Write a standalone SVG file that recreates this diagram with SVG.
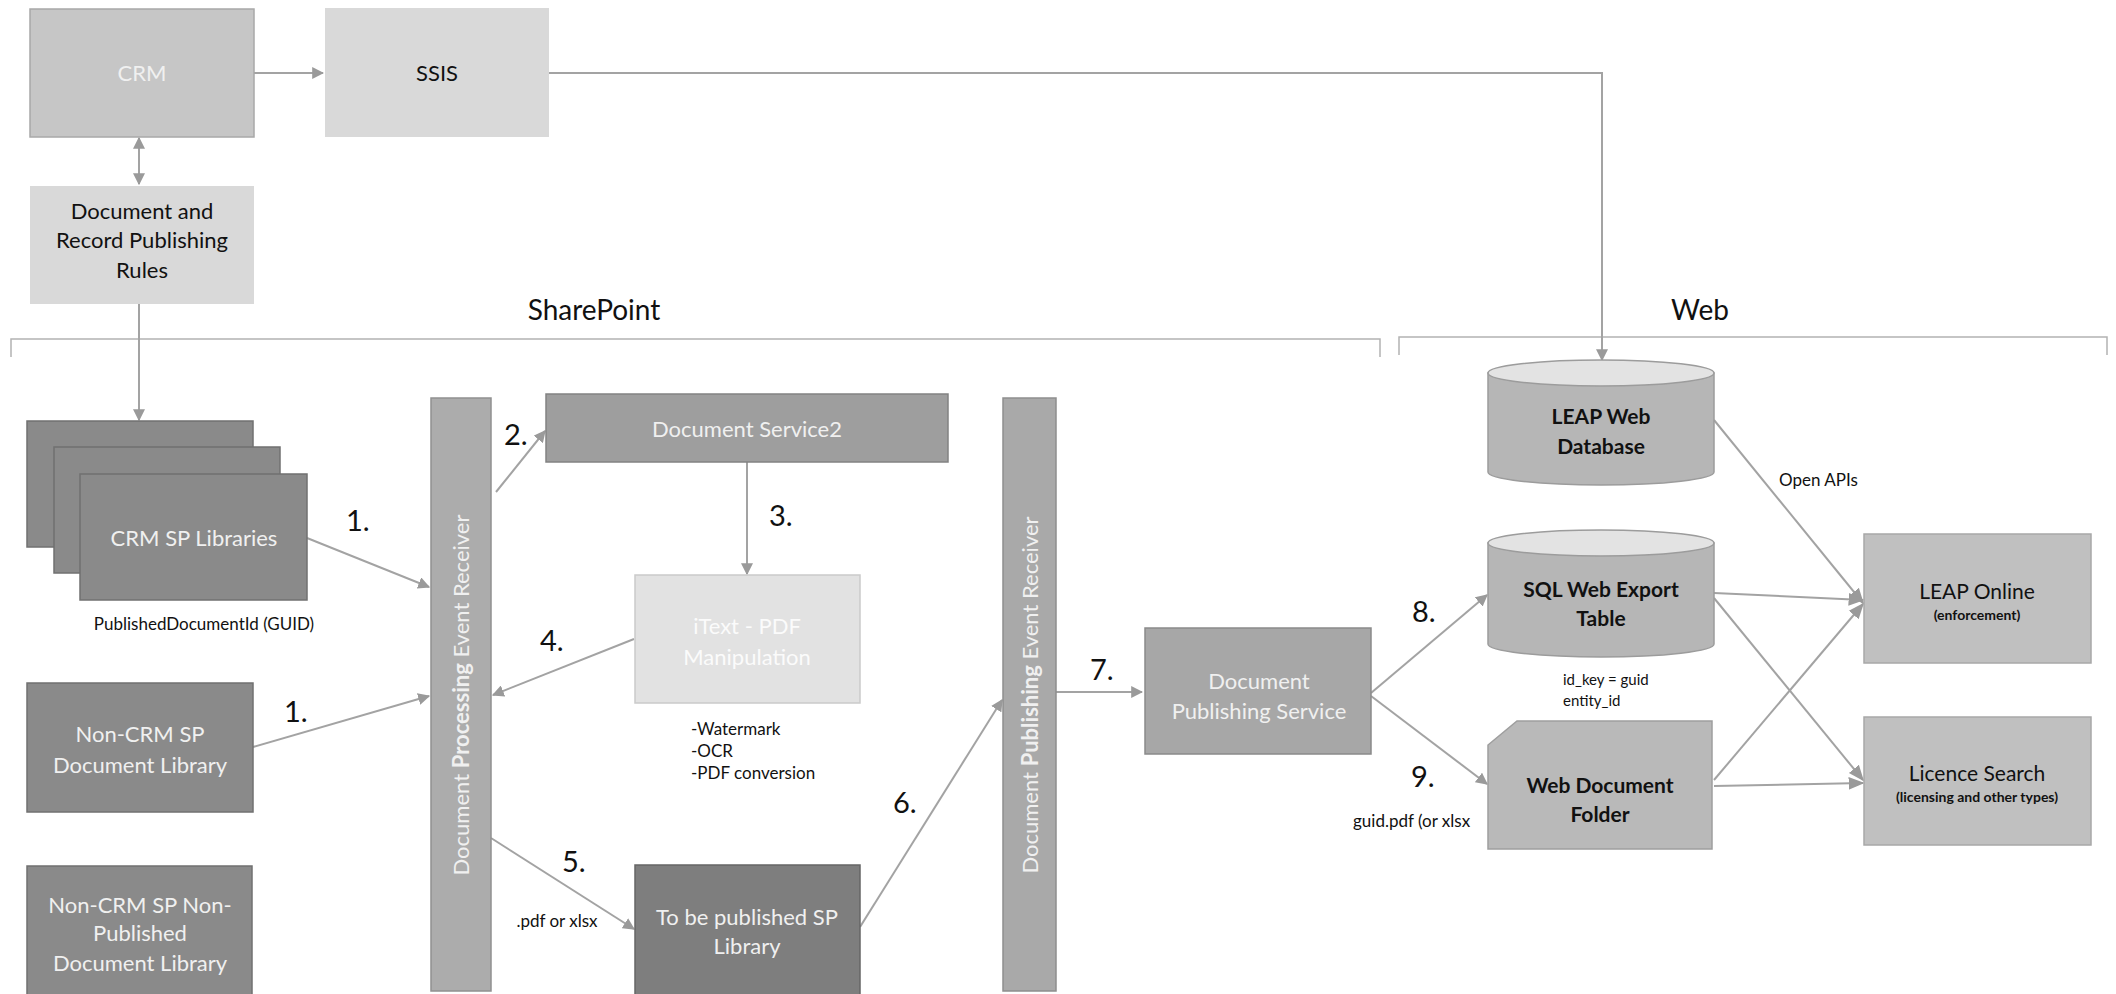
<svg xmlns="http://www.w3.org/2000/svg" width="2116" height="994" viewBox="0 0 2116 994">
<defs>
<marker id="ah2" viewBox="0 0 10 10" refX="9" refY="5" markerWidth="12" markerHeight="12" markerUnits="userSpaceOnUse" orient="auto-start-reverse"><path d="M0,0 L10,5 L0,10 z" fill="#9a9a9a"/></marker>
<marker id="ahb" viewBox="0 0 10 10" refX="9" refY="5" markerWidth="16" markerHeight="16" markerUnits="userSpaceOnUse" orient="auto-start-reverse"><path d="M0,1 L10,5 L0,9 z" fill="#9a9a9a"/></marker>
</defs>
<style>
text{font-family:Lato,"Liberation Sans",sans-serif;}
.c{text-anchor:middle;}
.w{fill:#f0f0f0;font-size:22px;}
.k{fill:#111;font-size:22px;}
.kb{fill:#111;font-size:21px;font-weight:bold;}
.sm{fill:#111;font-size:17px;}
.sr{fill:#111;font-size:15px;}
.num{fill:#111;font-size:29px;}
.hd{fill:#111;font-size:28px;}
.ln{stroke:#a3a3a3;stroke-width:2;fill:none;}
.br{stroke:#b3b3b3;stroke-width:1.5;fill:none;}
.dark{fill:#8a8a8a;stroke:#707070;stroke-width:1.5;}
</style>
<rect width="2116" height="994" fill="#ffffff"/>

<g id="sharepoint-section">
<path class="br" d="M11,357 V339 H1380 V357"/>
<text class="hd c" x="594" y="320">SharePoint</text>
</g>
<g id="web-section">
<path class="br" d="M1399,355 V337 H2107 V355"/>
<text class="hd c" x="1700" y="320">Web</text>
</g>

<g id="connectors">
<line class="ln" x1="254" y1="73" x2="323" y2="73" marker-end="url(#ah2)"/>
<polyline class="ln" points="549,73 1602,73 1602,360" marker-end="url(#ah2)"/>
<line class="ln" x1="139" y1="138" x2="139" y2="184" marker-start="url(#ah2)" marker-end="url(#ah2)"/>
<line class="ln" x1="139" y1="304" x2="139" y2="420" marker-end="url(#ah2)"/>
<line class="ln" x1="307" y1="538" x2="429" y2="587" marker-end="url(#ah2)"/>
<line class="ln" x1="253" y1="747" x2="429" y2="696" marker-end="url(#ah2)"/>
<line class="ln" x1="496" y1="492" x2="545" y2="431" marker-end="url(#ah2)"/>
<line class="ln" x1="747" y1="462" x2="747" y2="574" marker-end="url(#ah2)"/>
<line class="ln" x1="634" y1="639" x2="493" y2="695" marker-end="url(#ah2)"/>
<line class="ln" x1="491" y1="838" x2="634" y2="929" marker-end="url(#ah2)"/>
<line class="ln" x1="860" y1="927" x2="1002" y2="700" marker-end="url(#ah2)"/>
<line class="ln" x1="1056" y1="692" x2="1142" y2="692" marker-end="url(#ah2)"/>
<line class="ln" x1="1371" y1="693" x2="1487" y2="595" marker-end="url(#ah2)"/>
<line class="ln" x1="1371" y1="696" x2="1487" y2="784" marker-end="url(#ah2)"/>
<line class="ln" x1="1714" y1="420" x2="1863" y2="603" marker-end="url(#ahb)"/>
<line class="ln" x1="1714" y1="593" x2="1863" y2="600" marker-end="url(#ahb)"/>
<line class="ln" x1="1714" y1="598" x2="1863" y2="780" marker-end="url(#ahb)"/>
<line class="ln" x1="1714" y1="780" x2="1863" y2="604" marker-end="url(#ahb)"/>
<line class="ln" x1="1714" y1="786" x2="1863" y2="783" marker-end="url(#ahb)"/>
<text class="num" x="346" y="531">1.</text>
<text class="num" x="284" y="722">1.</text>
<text class="num" x="504" y="445">2.</text>
<text class="num" x="769" y="526">3.</text>
<text class="num" x="540" y="651">4.</text>
<text class="num" x="562" y="872">5.</text>
<text class="num" x="893" y="813">6.</text>
<text class="num" x="1090" y="680">7.</text>
<text class="num" x="1412" y="622">8.</text>
<text class="num" x="1411" y="787">9.</text>
<text class="sm" x="1779" y="486">Open APIs</text>
<text class="sm c" x="557" y="927">.pdf or xlsx</text>
<text class="sm" x="1353" y="827">guid.pdf (or xlsx</text>
</g>

<g id="crm">
<rect x="30" y="9" width="224" height="128" fill="#c6c6c6" stroke="#a8a8a8" stroke-width="1.5"/>
<text class="w c" x="142" y="81">CRM</text>
</g>
<g id="ssis">
<rect x="325" y="8" width="224" height="129" fill="#d9d9d9"/>
<text class="k c" x="437" y="81">SSIS</text>
</g>
<g id="rules">
<rect x="30" y="186" width="224" height="118" fill="#d9d9d9"/>
<text class="k c" x="142" y="219">Document and</text>
<text class="k c" x="142" y="248">Record Publishing</text>
<text class="k c" x="142" y="278">Rules</text>
</g>

<g id="crm-sp-libraries">
<rect class="dark" x="27" y="421" width="226" height="126"/>
<rect class="dark" x="54" y="447" width="226" height="126"/>
<rect class="dark" x="80" y="474" width="227" height="126"/>
<text class="w c" x="194" y="546">CRM SP Libraries</text>
<text class="sm c" x="204" y="630">PublishedDocumentId (GUID)</text>
</g>
<g id="non-crm-doc-lib">
<rect class="dark" x="27" y="683" width="226" height="129"/>
<text class="w c" x="140" y="742">Non-CRM SP</text>
<text class="w c" x="140" y="773">Document Library</text>
</g>
<g id="non-crm-non-published">
<rect class="dark" x="27" y="866" width="225" height="140"/>
<text class="w c" x="140" y="913">Non-CRM SP Non-</text>
<text class="w c" x="140" y="941">Published</text>
<text class="w c" x="140" y="971">Document Library</text>
</g>

<g id="doc-processing-receiver">
<rect x="431" y="398" width="60" height="593" fill="#acacac" stroke="#909090" stroke-width="1.5"/>
<text class="w c" font-size="23" transform="translate(469,695) rotate(-90)" x="0" y="0">Document <tspan font-weight="bold">Processing</tspan> Event Receiver</text>
</g>
<g id="doc-service2">
<rect x="546" y="394" width="402" height="68" fill="#9e9e9e" stroke="#828282" stroke-width="1.5"/>
<text class="w c" x="747" y="437">Document Service2</text>
</g>
<g id="itext">
<rect x="635" y="575" width="225" height="128" fill="#e2e2e2" stroke="#cacaca" stroke-width="1.5"/>
<text class="c" x="747" y="634" fill="#fbfbfb" font-size="22">iText - PDF</text>
<text class="c" x="747" y="665" fill="#fbfbfb" font-size="22">Manipulation</text>
<text class="sm" x="691" y="735">-Watermark</text>
<text class="sm" x="691" y="757">-OCR</text>
<text class="sm" x="691" y="779">-PDF conversion</text>
</g>
<g id="to-be-published">
<rect x="635" y="865" width="225" height="140" fill="#7e7e7e" stroke="#666" stroke-width="1.5"/>
<text class="w c" x="747" y="925">To be published SP</text>
<text class="w c" x="747" y="954">Library</text>
</g>
<g id="doc-publishing-receiver">
<rect x="1003" y="398" width="53" height="593" fill="#a9a9a9" stroke="#8e8e8e" stroke-width="1.5"/>
<text class="w c" font-size="23" transform="translate(1038,695) rotate(-90)" x="0" y="0">Document <tspan font-weight="bold">Publishing</tspan> Event Receiver</text>
</g>
<g id="doc-publishing-service">
<rect x="1145" y="628" width="226" height="126" fill="#a7a7a7" stroke="#8a8a8a" stroke-width="1.5"/>
<text class="w c" x="1259" y="689">Document</text>
<text class="w c" x="1259" y="719">Publishing Service</text>
</g>

<g id="leap-web-db">
<path d="M1488,373 V472 A113,13 0 0 0 1714,472 V373 Z" fill="#b6b6b6" stroke="#9c9c9c" stroke-width="1.5"/>
<ellipse cx="1601" cy="373" rx="113" ry="13" fill="#e3e3e3" stroke="#9c9c9c" stroke-width="1.5"/>
<text class="kb c" x="1601" y="424">LEAP Web</text>
<text class="kb c" x="1601" y="454">Database</text>
</g>
<g id="sql-web-export">
<path d="M1488,543 V644 A113,13 0 0 0 1714,644 V543 Z" fill="#b6b6b6" stroke="#9c9c9c" stroke-width="1.5"/>
<ellipse cx="1601" cy="543" rx="113" ry="13" fill="#e3e3e3" stroke="#9c9c9c" stroke-width="1.5"/>
<text class="kb c" x="1601" y="597">SQL Web Export</text>
<text class="kb c" x="1601" y="626">Table</text>
<text class="sr" x="1563" y="685">id_key = guid</text>
<text class="sr" x="1563" y="706">entity_id</text>
</g>
<g id="web-doc-folder">
<path d="M1517,721 H1712 V849 H1488 V745 Z" fill="#b9b9b9" stroke="#9e9e9e" stroke-width="1.5"/>
<text class="kb c" x="1600" y="793">Web Document</text>
<text class="kb c" x="1600" y="822">Folder</text>
</g>
<g id="leap-online">
<rect x="1864" y="534" width="227" height="129" fill="#c0c0c0" stroke="#a8a8a8" stroke-width="1.5"/>
<text class="c" x="1977" y="599" fill="#111" font-size="21">LEAP Online</text>
<text class="c" x="1977" y="620" fill="#111" font-size="14" font-weight="bold">(enforcement)</text>
</g>
<g id="licence-search">
<rect x="1864" y="717" width="227" height="128" fill="#c0c0c0" stroke="#a8a8a8" stroke-width="1.5"/>
<text class="c" x="1977" y="781" fill="#111" font-size="21">Licence Search</text>
<text class="c" x="1977" y="802" fill="#111" font-size="14" font-weight="bold">(licensing and other types)</text>
</g>
</svg>
